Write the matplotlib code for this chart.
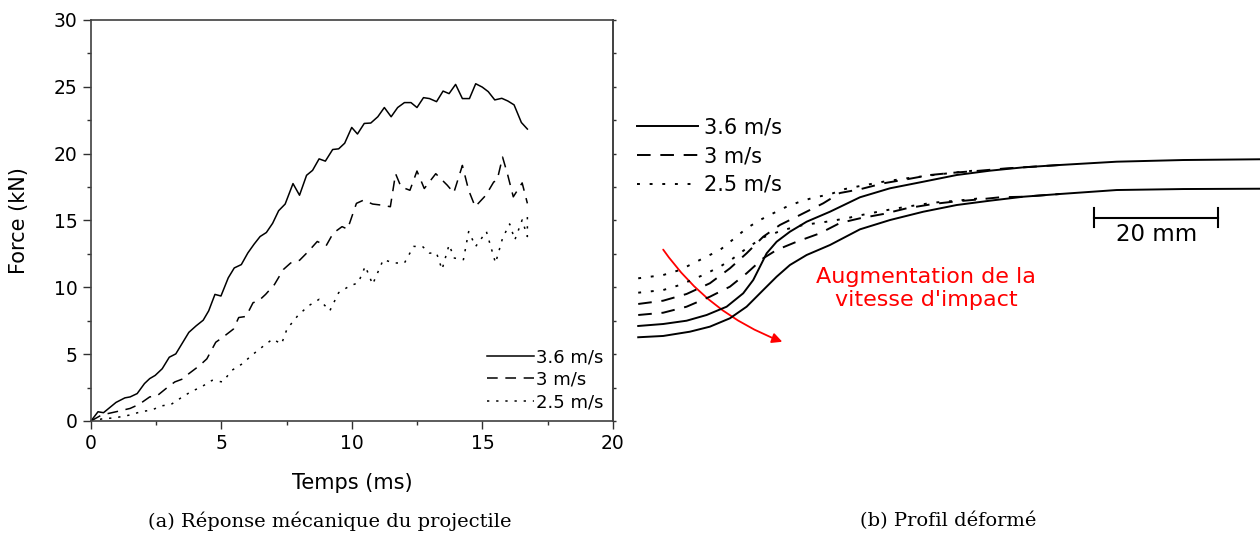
import matplotlib
matplotlib.use('Agg')
import matplotlib.pyplot as plt
from matplotlib.patches import FancyArrowPatch
from matplotlib.ticker import MultipleLocator

plt.rcParams['font.family'] = ['DejaVu Sans']

# (a) force-time response, one series per impact speed
t_36 = [0, 0.27, 0.48, 0.96, 1.30, 1.50, 1.77, 2.05, 2.25, 2.46, 2.73, 3.00, 3.25, 3.48, 3.75,
        4.03, 4.30, 4.51, 4.75, 4.98, 5.26, 5.49, 5.76, 6.01, 6.25, 6.48, 6.72, 6.96, 7.19,
        7.44, 7.74, 7.99, 8.26, 8.49, 8.74, 8.98, 9.26, 9.49, 9.72, 9.99, 10.21, 10.47, 10.72,
        10.99, 11.24, 11.50, 11.75, 12.01, 12.26, 12.49, 12.74, 12.97, 13.24, 13.49, 13.72,
        13.97, 14.23, 14.50, 14.74, 14.99, 15.22, 15.47, 15.74, 15.97, 16.21, 16.49, 16.72]
f_36 = [0, 0.69, 0.62, 1.39, 1.73, 1.80, 2.05, 2.80, 3.17, 3.41, 3.91, 4.77, 5.02, 5.76, 6.63,
        7.12, 7.54, 8.24, 9.47, 9.35, 10.71, 11.45, 11.70, 12.57, 13.23, 13.80, 14.10, 14.79,
        15.73, 16.23, 17.76, 16.89, 18.38, 18.75, 19.61, 19.44, 20.31, 20.36, 20.78, 21.96,
        21.47, 22.26, 22.29, 22.76, 23.45, 22.76, 23.45, 23.82, 23.82, 23.45, 24.19, 24.12,
        23.89, 24.68, 24.49, 25.18, 24.12, 24.12, 25.23, 24.98, 24.64, 24.02, 24.14, 23.94,
        23.65, 22.33, 21.84]

t_30 = [0, 0.41, 0.96, 1.50, 1.84, 2.25, 2.53, 2.87, 3.21, 3.55, 3.75, 4.17, 4.44, 4.78, 5.05,
        5.46, 5.66, 5.94, 6.21, 6.42, 6.69, 7.03, 7.37, 7.65, 7.99, 8.33, 8.67, 9.01, 9.28,
        9.62, 9.83, 10.17, 10.44, 10.79, 11.13, 11.47, 11.67, 11.88, 12.22, 12.49, 12.77,
        13.21, 13.65, 13.90, 14.23, 14.47, 14.72, 15.13, 15.43, 15.56, 15.77, 15.97, 16.18,
        16.52, 16.72]
f_30 = [0, 0.45, 0.69, 0.94, 1.24, 1.80, 1.88, 2.42, 2.92, 3.17, 3.54, 4.16, 4.65, 5.89, 6.26,
        6.88, 7.74, 7.82, 8.85, 8.98, 9.47, 10.21, 11.33, 11.82, 12.02, 12.69, 13.43, 13.11,
        14.05, 14.54, 14.35, 16.28, 16.52, 16.23, 16.15, 16.03, 18.50, 17.51, 17.26, 18.70,
        17.39, 18.50, 17.64, 17.07, 19.12, 17.26, 16.03, 16.89, 17.88, 18.01, 19.74, 18.38,
        16.77, 17.81, 16.28]

t_25 = [0, 0.41, 0.96, 1.50, 1.91, 2.32, 2.73, 3.07, 3.41, 3.82, 4.23, 4.64, 5.05, 5.39, 5.80,
        6.15, 6.55, 6.96, 7.30, 7.51, 7.92, 8.33, 8.74, 9.15, 9.49, 9.90, 10.24, 10.51, 10.79,
        11.20, 11.61, 12.01, 12.36, 12.70, 12.97, 13.24, 13.45, 13.72, 13.92, 14.27, 14.47,
        14.74, 15.15, 15.50, 15.77, 16.04, 16.24, 16.52, 16.72, 16.72]
f_25 = [0, 0.15, 0.25, 0.45, 0.69, 0.82, 1.14, 1.24, 1.68, 2.18, 2.55, 3.04, 2.92, 3.78, 4.28,
        4.90, 5.52, 6.13, 5.76, 6.88, 7.87, 8.61, 9.10, 8.24, 9.60, 10.09, 10.34, 11.58, 10.22,
        12.07, 11.82, 11.82, 13.06, 13.06, 12.56, 12.56, 11.33, 13.18, 12.19, 12.07, 14.17,
        13.06, 14.17, 11.82, 13.68, 14.74, 13.55, 15.04, 13.80, 15.53]

labels = ['3.6 m/s', '3 m/s', '2.5 m/s']

# (b) deformed profiles, mm (upper and lower surface per speed)
up36_x = [0.05, 4.08, 7.85, 11.08, 14.31, 16.98, 18.6, 19.68, 20.76, 22.37, 24.52, 27.21, 30.97,
          35.81, 40.65, 46.02, 51.4, 56.77, 62.15, 68.06, 77.21, 87.95, 100.32]
up36_y = [2.26, 2.58, 3.11, 4.03, 5.37, 7.53, 9.68, 11.82, 13.98, 15.85, 17.47, 19.08, 20.69,
          23.02, 24.47, 25.53, 26.61, 27.31, 27.85, 28.23, 28.76, 29.03, 29.15]
lo36_x = [0.05, 4.08, 8.39, 11.61, 14.84, 17.53, 20.21, 22.37, 24.52, 27.21, 30.97, 35.81, 40.65,
          46.02, 51.4, 56.77, 62.15, 68.06, 77.21, 87.95, 100.32]
lo36_y = [0.44, 0.65, 1.34, 2.15, 3.5, 5.37, 8.06, 10.21, 12.1, 13.71, 15.32, 17.85, 19.35, 20.69,
          21.77, 22.47, 23.11, 23.55, 24.19, 24.35, 24.4]
up30_x = [0.05, 4.08, 7.85, 11.61, 14.84, 17.53, 20.21, 22.9, 26.13, 29.89, 32.58, 35.81, 39.56,
          43.34, 47.1, 50.85, 55.16, 59.47, 62.15, 68.06]
up30_y = [5.81, 6.34, 7.42, 9.15, 11.56, 13.98, 16.66, 18.55, 20.16, 22.05, 23.71, 24.31, 25.27,
          25.92, 26.61, 26.98, 27.31, 27.69, 27.85, 28.23]
lo30_x = [0.05, 4.08, 7.85, 11.61, 14.84, 17.53, 20.21, 22.37, 25.6, 29.35, 32.58, 35.81, 39.56,
          43.34, 47.63, 50.85, 55.16, 58.39, 62.15, 68.06]
lo30_y = [4.03, 4.4, 5.37, 6.98, 8.6, 10.76, 13.18, 14.52, 15.85, 17.21, 18.87, 19.63, 20.32,
          21.24, 21.94, 22.31, 22.69, 23.02, 23.11, 23.55]
up25_x = [0.05, 4.08, 6.77, 10.53, 13.23, 15.37, 17.53, 19.68, 21.82, 23.98, 26.13, 28.27, 30.97,
          33.39, 35.27, 39.56, 43.34, 47.63, 50.85, 55.16]
up25_y = [9.95, 10.48, 11.29, 13.18, 14.52, 16.24, 18.02, 19.35, 20.44, 21.5, 22.31, 22.95, 23.5,
          24.35, 24.73, 25.53, 26.08, 26.61, 26.98, 27.42]
lo25_x = [0.05, 4.08, 6.77, 10.53, 13.23, 15.37, 17.53, 20.21, 23.44, 26.66, 30.44, 33.66, 35.27,
          39.56, 43.34, 47.63, 51.4, 55.16]
lo25_y = [7.63, 8.06, 8.87, 10.48, 11.82, 13.18, 14.79, 16.56, 17.74, 18.55, 19.08, 19.63, 20.0,
          20.85, 21.5, 22.15, 22.47, 22.85]

scale_mm = 20

fig = plt.figure(figsize=(12.6, 5.4), dpi=100)

# ---- left panel ----
ax = fig.add_axes([0.0722, 0.2204, 0.4143, 0.7426])
ax.plot(t_36, f_36, color='black', lw=1.1, label=labels[0])
ax.plot(t_30, f_30, color='black', lw=1.1, dashes=(7, 5), label=labels[1])
ax.plot(t_25, f_25, color='black', lw=1.1, dashes=(1.5, 4.5), label=labels[2])
ax.set_xlim(0, 20)
ax.set_ylim(0, 30)
ax.xaxis.set_major_locator(MultipleLocator(5))
ax.xaxis.set_minor_locator(MultipleLocator(2.5))
ax.yaxis.set_major_locator(MultipleLocator(5))
ax.yaxis.set_minor_locator(MultipleLocator(2.5))
ax.tick_params(which='major', direction='out', length=6, width=1, labelsize=13.5, colors='#303030',
               labelcolor='black')
ax.tick_params(which='minor', direction='out', length=3, width=1, colors='#303030')
for s in ax.spines.values():
    s.set_color('#404040')
    s.set_linewidth(1.2)
# short ticks on the right side, no labels
ax_r = ax.twinx()
ax_r.set_ylim(0, 30)
ax_r.yaxis.set_major_locator(MultipleLocator(2.5))
ax_r.tick_params(direction='out', length=2, width=1, colors='#303030', labelright=False)
for side in ['top', 'left', 'bottom']:
    ax_r.spines[side].set_visible(False)
ax_r.spines['right'].set_color('#404040')
ax_r.spines['right'].set_linewidth(1.2)
ax.set_xlabel('Temps (ms)', fontsize=15, labelpad=14)
ax.set_ylabel('Force (kN)', fontsize=15, labelpad=18)
ax.legend(loc='lower right', frameon=False, fontsize=13, handlelength=2.6, handletextpad=0.1,
          labelspacing=0.25, borderaxespad=0.15)

# ---- right panel ----
bx = fig.add_axes([0.492, 0.3333, 0.508, 0.4815])
bx.set_xlim(-2.9, 100.32)
bx.set_ylim(-3.23, 38.71)
bx.axis('off')
bx.plot(up36_x, up36_y, color='black', lw=1.4, label=labels[0])
bx.plot(lo36_x, lo36_y, color='black', lw=1.4)
bx.plot(up30_x, up30_y, color='black', lw=1.4, dashes=(7, 5), label=labels[1])
bx.plot(lo30_x, lo30_y, color='black', lw=1.4, dashes=(7, 5))
bx.plot(up25_x, up25_y, color='black', lw=1.4, dashes=(1.5, 5), label=labels[2])
bx.plot(lo25_x, lo25_y, color='black', lw=1.4, dashes=(1.5, 5))
bx.legend(loc='upper left', bbox_to_anchor=(0.014, 0.965), frameon=False, fontsize=15,
          handlelength=2.9, handletextpad=0.3, labelspacing=0.42, borderaxespad=0)

# scale bar
sx0, sy = 73.6, 19.73
bx.plot([sx0, sx0 + scale_mm], [sy, sy], color='black', lw=1.5)
bx.plot([sx0, sx0], [sy - 1.5, sy + 1.5], color='black', lw=1.5)
bx.plot([sx0 + scale_mm, sx0 + scale_mm], [sy - 1.5, sy + 1.5], color='black', lw=1.5)
bx.text(sx0 + scale_mm / 2, sy - 0.9, '%d mm' % scale_mm, ha='center', va='top', fontsize=16.5)

# red arrow
arr = FancyArrowPatch((3.82, 14.95), (23.71, -0.44), connectionstyle='arc3,rad=0.16',
                      arrowstyle='-|>,head_length=6,head_width=3', color='red', lw=1.3)
bx.add_patch(arr)
bx.text(46.5, 8.3, "Augmentation de la\nvitesse d'impact", color='red', ha='center', va='center',
        fontsize=16, linespacing=1.2)

# captions
fig.text(330 / 1260, 1 - 521 / 540, '(a) Réponse mécanique du projectile', ha='center', va='center',
         fontsize=14, family='DejaVu Serif')
fig.text(948 / 1260, 1 - 521 / 540, '(b) Profil déformé', ha='center', va='center',
         fontsize=14, family='DejaVu Serif')

fig.savefig('out.png', dpi=100)
